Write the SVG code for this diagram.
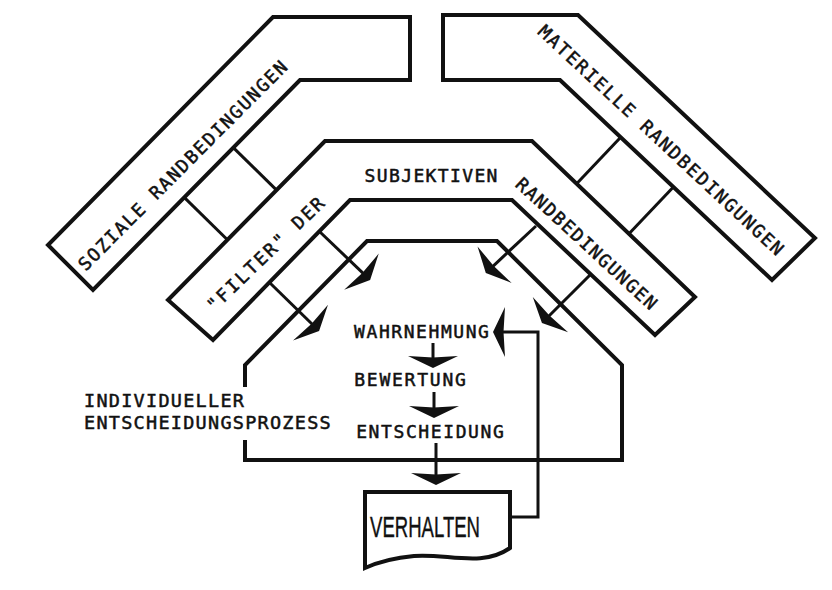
<svg xmlns="http://www.w3.org/2000/svg" width="832" height="590" viewBox="0 0 832 590">
<style>
.band{fill:none;stroke:#111;stroke-width:4;stroke-linejoin:miter}
.rung{fill:none;stroke:#111;stroke-width:3}
.conn{fill:none;stroke:#111;stroke-width:3}
.arr{marker-end:url(#ah)}
.t{font-family:"DejaVu Sans Mono","Liberation Mono",monospace;font-size:18px;fill:#111;stroke:#111;stroke-width:0.5}
.big{font-family:"DejaVu Sans Mono","Liberation Mono",monospace;font-size:18.5px;fill:#111;stroke:#111;stroke-width:0.5}
.vh{font-family:"Liberation Sans",Arial,sans-serif;font-size:29px;fill:#111;stroke:#111;stroke-width:0.4}
</style>
<defs>
<marker id="ah" markerUnits="userSpaceOnUse" orient="auto" refX="0" refY="0" markerWidth="1" markerHeight="1" overflow="visible">
<path d="M6,0 L-6,-25 L-4.5,0 L-6,25 Z" fill="#111"/>
</marker>
</defs>
<rect width="832" height="590" fill="#fff"/>

<g id="soziale">
<path class="band" d="M273,17 H410 V80 H300 L93,290 L48,245 Z"/>
<text class="t" transform="translate(182.5,165.5) rotate(-45.1)" x="0.9" y="6.5" text-anchor="middle" letter-spacing="1.73">SOZIALE RANDBEDINGUNGEN</text>
</g>

<g id="materielle">
<path class="band" d="M443,15 H578 L815,238 L772,280 L560,80 H443 Z"/>
<text class="t" transform="translate(661,140) rotate(43)" x="0.9" y="6.5" text-anchor="middle" letter-spacing="1.84">MATERIELLE RANDBEDINGUNGEN</text>
</g>

<g id="subjektive">
<path class="band" d="M325,141 H532 L695,297 L655,335 L512,200 H350 L213,340 L168,300 Z"/>
<text class="t" transform="translate(265.4,254) rotate(-44)" x="1.1" y="6.5" text-anchor="middle" letter-spacing="2.26">"FILTER" DER</text>
<text class="t" x="431.7" y="182" text-anchor="middle" letter-spacing="1.36">SUBJEKTIVEN</text>
<text class="t" transform="translate(586.5,243.5) rotate(42.7)" x="0.8" y="6.5" text-anchor="middle" letter-spacing="1.56">RANDBEDINGUNGEN</text>
</g>

<g id="entscheidungsprozess">
<path class="band" d="M245,387 V365 L367,241 H497 L622,365 V460 H245 V440"/>
<text class="big" x="84" y="407" letter-spacing="1.26">INDIVIDUELLER</text>
<text class="big" x="84" y="429" letter-spacing="1.26">ENTSCHEIDUNGSPROZESS</text>
</g>

<g id="wahrnehmung">
<text class="t" x="422.3" y="338" text-anchor="middle" letter-spacing="1.56">WAHRNEHMUNG</text>
</g>
<g id="bewertung">
<text class="t" x="410.9" y="386" text-anchor="middle" letter-spacing="1.76">BEWERTUNG</text>
</g>
<g id="entscheidung">
<text class="t" x="430.8" y="437.5" text-anchor="middle" letter-spacing="1.6">ENTSCHEIDUNG</text>
</g>

<g id="verhalten">
<path class="band" d="M365,568 V492 H510 V548 C482,568 446,553 414,556 C392,558 376,563 365,568 Z"/>
<text class="vh" x="370" y="537" textLength="110" lengthAdjust="spacingAndGlyphs">VERHALTEN</text>
</g>

<g id="connectors">
<line class="rung" x1="233.3" y1="147.6" x2="276.6" y2="190.1"/>
<line class="rung" x1="184.2" y1="197.4" x2="227.4" y2="239.8"/>
<line class="rung" x1="620.7" y1="137.3" x2="576.6" y2="183.7"/>
<line class="rung" x1="673.4" y1="187" x2="629" y2="233.8"/>
<line class="conn arr" x1="320" y1="232" x2="365.8" y2="275.8"/>
<line class="conn arr" x1="270" y1="283" x2="314.8" y2="326.8"/>
<line class="conn arr" x1="536" y1="226" x2="490.2" y2="268.8"/>
<line class="conn arr" x1="590" y1="275" x2="546.2" y2="318.8"/>
<line class="conn arr" x1="433" y1="343" x2="433" y2="362"/>
<line class="conn arr" x1="434" y1="392" x2="434" y2="412"/>
<line class="conn arr" x1="436" y1="443" x2="436" y2="479"/>
<path class="conn arr" d="M510,517 H538 V332 H499"/>
</g>
</svg>
